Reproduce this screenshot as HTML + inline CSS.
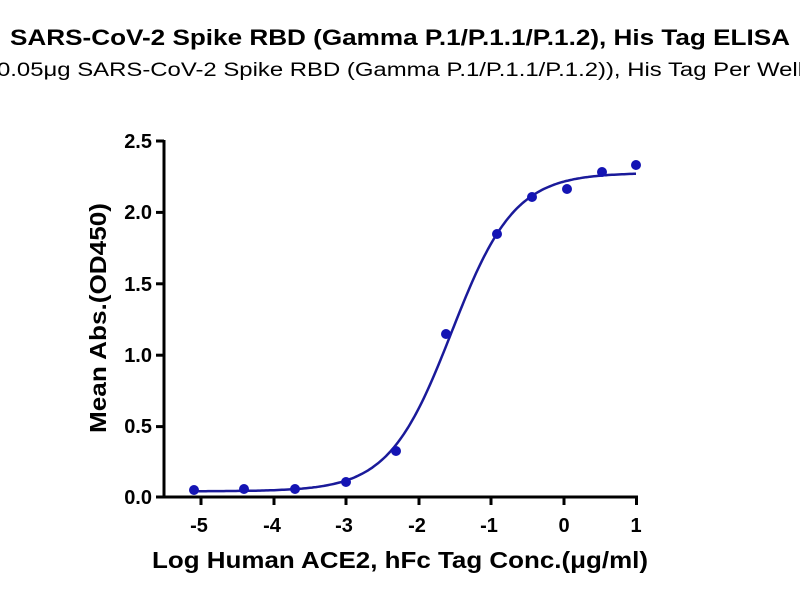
<!DOCTYPE html>
<html><head><meta charset="utf-8"><style>
body{margin:0;background:#fff;width:800px;height:600px;overflow:hidden}
svg text{font-family:"Liberation Sans",Arial,sans-serif}
</style></head><body>
<svg id="s" width="800" height="600" xmlns="http://www.w3.org/2000/svg">
<text x="400" y="45" text-anchor="middle" font-size="22" font-weight="bold" textLength="780" lengthAdjust="spacingAndGlyphs">SARS-CoV-2 Spike RBD (Gamma P.1/P.1.1/P.1.2), His Tag ELISA</text>
<text x="400" y="76" text-anchor="middle" font-size="19" textLength="806" lengthAdjust="spacingAndGlyphs">0.05μg SARS-CoV-2 Spike RBD (Gamma P.1/P.1.1/P.1.2)), His Tag Per Well</text>
<g stroke="#000" stroke-width="3" fill="none">
<line x1="164" y1="140" x2="164" y2="498.5"/>
<line x1="162.5" y1="497" x2="638" y2="497"/>
<line x1="156" y1="141" x2="164" y2="141"/>
<line x1="156" y1="212.4" x2="164" y2="212.4"/>
<line x1="156" y1="283.8" x2="164" y2="283.8"/>
<line x1="156" y1="355.2" x2="164" y2="355.2"/>
<line x1="156" y1="426.6" x2="164" y2="426.6"/>
<line x1="156" y1="497" x2="164" y2="497"/>
<line x1="201" y1="497" x2="201" y2="505"/>
<line x1="274" y1="497" x2="274" y2="505"/>
<line x1="346" y1="497" x2="346" y2="505"/>
<line x1="419" y1="497" x2="419" y2="505"/>
<line x1="491" y1="497" x2="491" y2="505"/>
<line x1="564" y1="497" x2="564" y2="505"/>
<line x1="636.5" y1="497" x2="636.5" y2="505"/>
</g>
<g font-size="20" font-weight="bold" text-anchor="end">
<text x="152" y="148">2.5</text>
<text x="152" y="219">2.0</text>
<text x="152" y="291">1.5</text>
<text x="152" y="362">1.0</text>
<text x="152" y="433">0.5</text>
<text x="152" y="504">0.0</text>
</g>
<g font-size="20" font-weight="bold" text-anchor="middle">
<text x="199" y="532">-5</text>
<text x="272" y="532">-4</text>
<text x="344" y="532">-3</text>
<text x="417" y="532">-2</text>
<text x="489" y="532">-1</text>
<text x="564" y="532">0</text>
<text x="636" y="532">1</text>
</g>
<text x="400" y="568" text-anchor="middle" font-size="23" font-weight="bold" textLength="496" lengthAdjust="spacingAndGlyphs">Log Human ACE2, hFc Tag Conc.(μg/ml)</text>
<text transform="translate(106,318) rotate(-90)" text-anchor="middle" font-size="23" font-weight="bold" textLength="230" lengthAdjust="spacingAndGlyphs">Mean Abs.(OD450)</text>
<path id="c" fill="none" stroke="#1a1a9a" stroke-width="2.5"/>
<g fill="#1414b4">
<circle cx="194" cy="490" r="5"/><circle cx="244" cy="489" r="5"/><circle cx="295" cy="489" r="5"/>
<circle cx="346" cy="482" r="5"/><circle cx="396" cy="451" r="5"/><circle cx="446" cy="334" r="5"/>
<circle cx="497" cy="234" r="5"/><circle cx="532" cy="197" r="5"/><circle cx="567" cy="189" r="5"/>
<circle cx="602" cy="172" r="5"/><circle cx="636" cy="165" r="5"/>
</g>
</svg>
<script>
var d="";for(var px=194;px<=636;px+=2){var x=(px-564)/72.5;var y=0.04+2.23/(1+Math.pow(10,1.0*(-1.55-x)));var py=497-y*142.8;d+=(d?"L":"M")+px+","+py.toFixed(1);}
document.getElementById("c").setAttribute("d",d);
</script>
</body></html>
